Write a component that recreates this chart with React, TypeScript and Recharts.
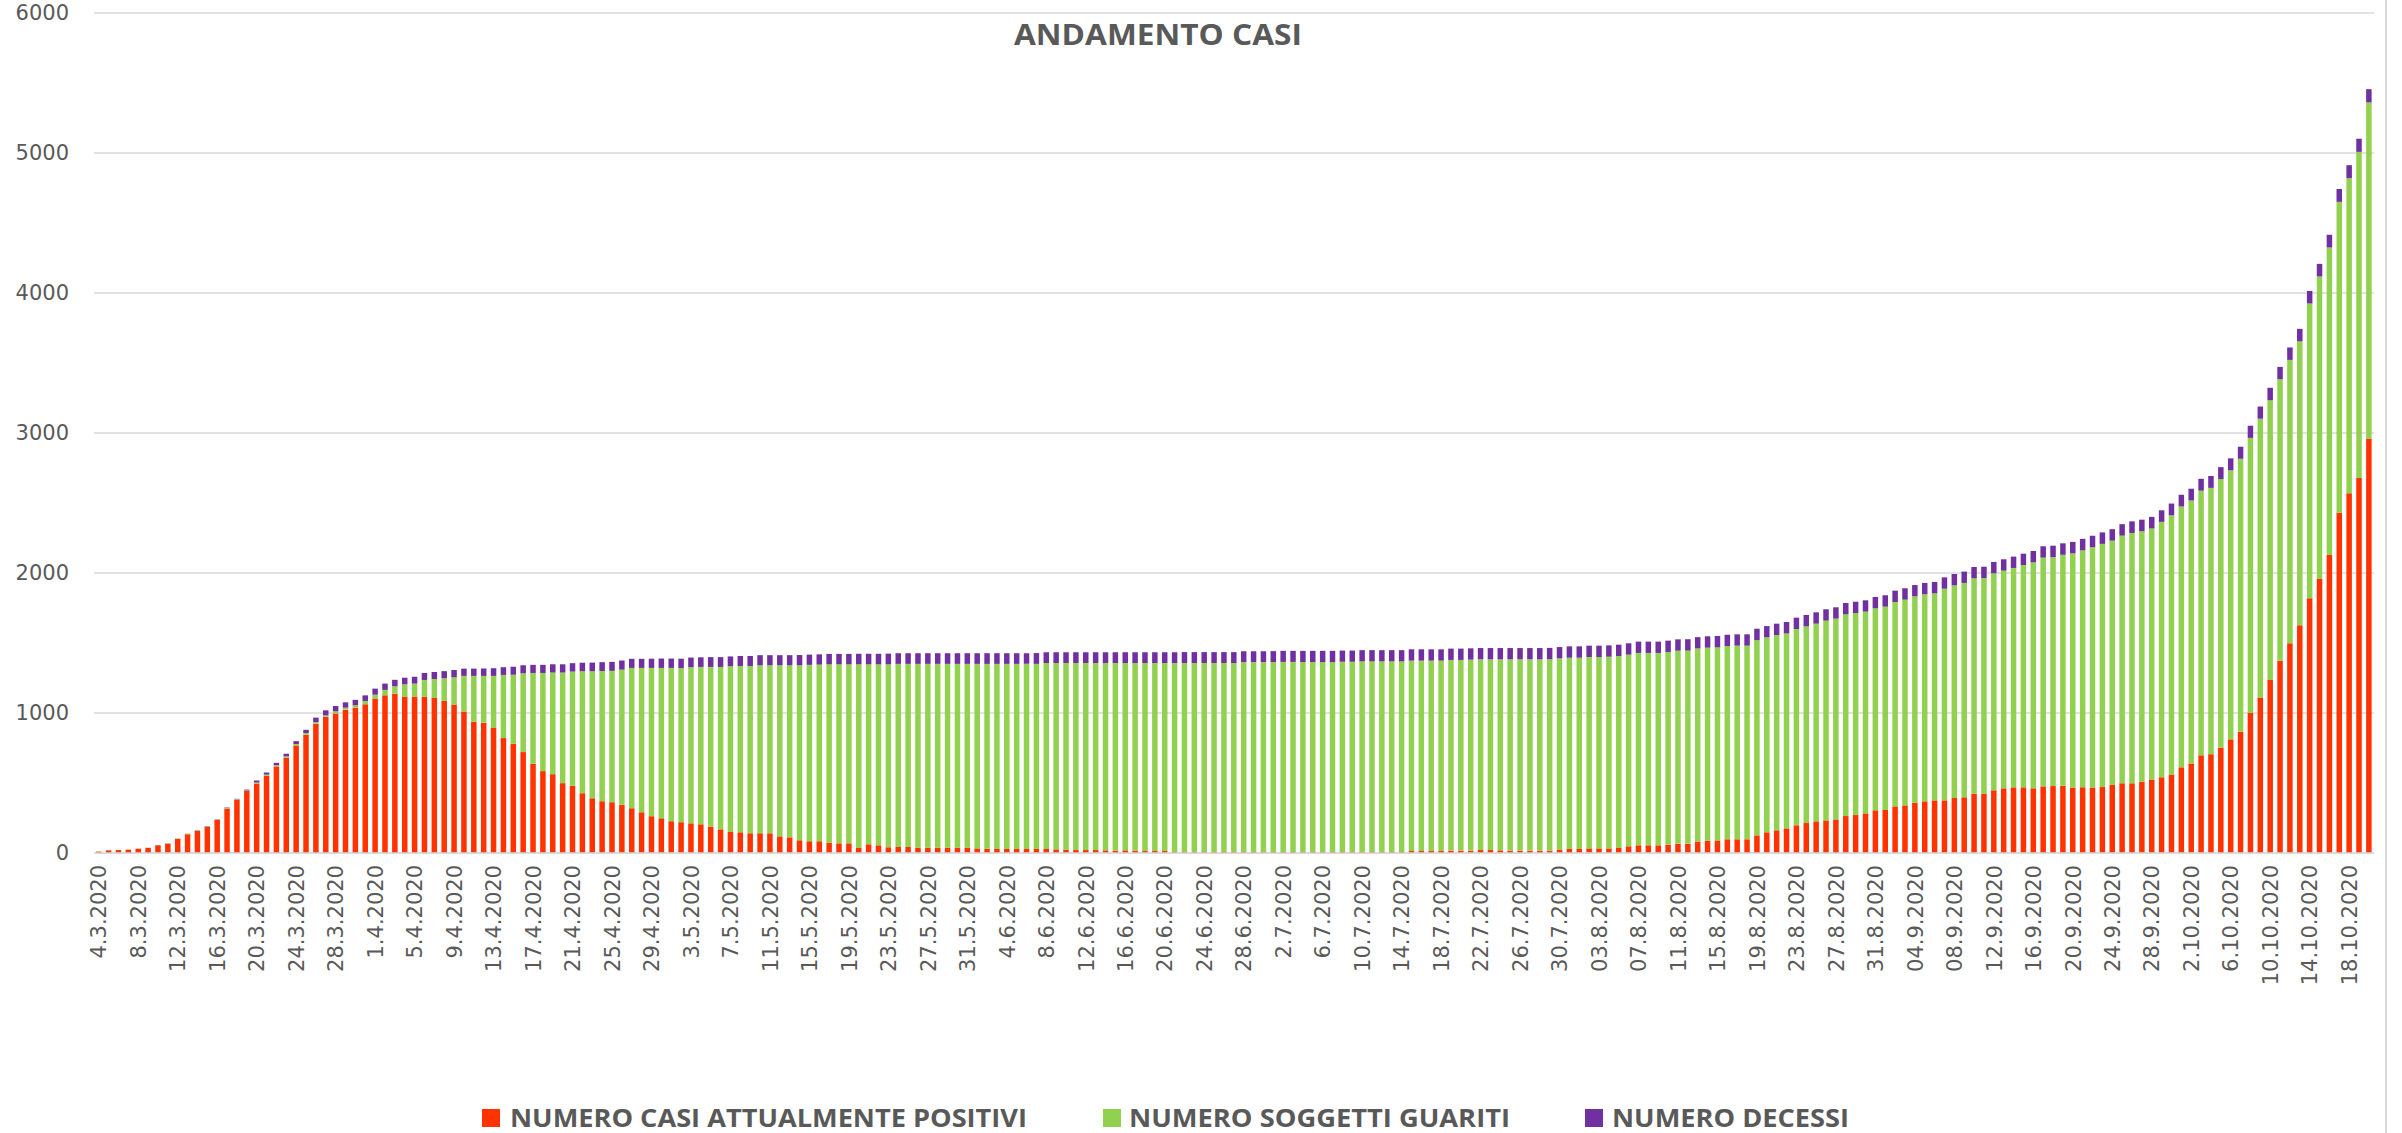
import { BarChart, Bar, XAxis, YAxis, CartesianGrid, Legend } from 'recharts'

const dates = [
  '4.3.2020', '5.3.2020', '6.3.2020', '7.3.2020', '8.3.2020', '9.3.2020', '10.3.2020', '11.3.2020', '12.3.2020', '13.3.2020',
  '14.3.2020', '15.3.2020', '16.3.2020', '17.3.2020', '18.3.2020', '19.3.2020', '20.3.2020', '21.3.2020', '22.3.2020', '23.3.2020',
  '24.3.2020', '25.3.2020', '26.3.2020', '27.3.2020', '28.3.2020', '29.3.2020', '30.3.2020', '31.3.2020',
  '1.4.2020', '2.4.2020', '3.4.2020', '4.4.2020', '5.4.2020', '6.4.2020', '7.4.2020', '8.4.2020', '9.4.2020', '10.4.2020',
  '11.4.2020', '12.4.2020', '13.4.2020', '14.4.2020', '15.4.2020', '16.4.2020', '17.4.2020', '18.4.2020', '19.4.2020', '20.4.2020',
  '21.4.2020', '22.4.2020', '23.4.2020', '24.4.2020', '25.4.2020', '26.4.2020', '27.4.2020', '28.4.2020', '29.4.2020', '30.4.2020',
  '1.5.2020', '2.5.2020', '3.5.2020', '4.5.2020', '5.5.2020', '6.5.2020', '7.5.2020', '8.5.2020', '9.5.2020', '10.5.2020',
  '11.5.2020', '12.5.2020', '13.5.2020', '14.5.2020', '15.5.2020', '16.5.2020', '17.5.2020', '18.5.2020', '19.5.2020', '20.5.2020',
  '21.5.2020', '22.5.2020', '23.5.2020', '24.5.2020', '25.5.2020', '26.5.2020', '27.5.2020', '28.5.2020', '29.5.2020', '30.5.2020', '31.5.2020',
  '1.6.2020', '2.6.2020', '3.6.2020', '4.6.2020', '5.6.2020', '6.6.2020', '7.6.2020', '8.6.2020', '9.6.2020', '10.6.2020',
  '11.6.2020', '12.6.2020', '13.6.2020', '14.6.2020', '15.6.2020', '16.6.2020', '17.6.2020', '18.6.2020', '19.6.2020', '20.6.2020',
  '21.6.2020', '22.6.2020', '23.6.2020', '24.6.2020', '25.6.2020', '26.6.2020', '27.6.2020', '28.6.2020', '29.6.2020', '30.6.2020',
  '1.7.2020', '2.7.2020', '3.7.2020', '4.7.2020', '5.7.2020', '6.7.2020', '7.7.2020', '8.7.2020', '9.7.2020', '10.7.2020',
  '11.7.2020', '12.7.2020', '13.7.2020', '14.7.2020', '15.7.2020', '16.7.2020', '17.7.2020', '18.7.2020', '19.7.2020', '20.7.2020',
  '21.7.2020', '22.7.2020', '23.7.2020', '24.7.2020', '25.7.2020', '26.7.2020', '27.7.2020', '28.7.2020', '29.7.2020', '30.7.2020', '31.7.2020',
  '01.8.2020', '02.8.2020', '03.8.2020', '04.8.2020', '05.8.2020', '06.8.2020', '07.8.2020', '08.8.2020', '09.8.2020', '10.8.2020',
  '11.8.2020', '12.8.2020', '13.8.2020', '14.8.2020', '15.8.2020', '16.8.2020', '17.8.2020', '18.8.2020', '19.8.2020', '20.8.2020',
  '21.8.2020', '22.8.2020', '23.8.2020', '24.8.2020', '25.8.2020', '26.8.2020', '27.8.2020', '28.8.2020', '29.8.2020', '30.8.2020', '31.8.2020',
  '01.9.2020', '02.9.2020', '03.9.2020', '04.9.2020', '05.9.2020', '06.9.2020', '07.9.2020', '08.9.2020', '09.9.2020', '10.9.2020',
  '11.9.2020', '12.9.2020', '13.9.2020', '14.9.2020', '15.9.2020', '16.9.2020', '17.9.2020', '18.9.2020', '19.9.2020', '20.9.2020',
  '21.9.2020', '22.9.2020', '23.9.2020', '24.9.2020', '25.9.2020', '26.9.2020', '27.9.2020', '28.9.2020', '29.9.2020', '30.9.2020',
  '1.10.2020', '2.10.2020', '3.10.2020', '4.10.2020', '5.10.2020', '6.10.2020', '7.10.2020', '8.10.2020', '9.10.2020', '10.10.2020',
  '11.10.2020', '12.10.2020', '13.10.2020', '14.10.2020', '15.10.2020', '16.10.2020', '17.10.2020', '18.10.2020', '19.10.2020', '20.10.2020',
]

// numero casi attualmente positivi
const positivi = [
  10, 19, 21, 24, 31, 37, 55, 66, 100, 134,
  157, 187, 236, 318, 380, 444, 496, 551, 618, 680,
  768, 845, 924, 974, 997, 1024, 1038, 1062, 1103, 1126,
  1138, 1117, 1117, 1115, 1107, 1086, 1060, 1010, 938, 931,
  893, 821, 780, 721, 637, 585, 563, 499, 480, 427,
  391, 370, 363, 344, 320, 291, 263, 248, 227, 220,
  212, 205, 189, 169, 150, 148, 141, 141, 141, 119,
  112, 91, 84, 84, 74, 69, 69, 36, 62, 55,
  41, 43, 43, 38, 38, 38, 38, 38, 38, 33,
  31, 29, 29, 29, 29, 29, 29, 26, 24, 21,
  21, 21, 19, 17, 19, 17, 14, 14, 14, 7,
  7, 7, 7, 7, 7, 7, 7, 7, 7, 7,
  7, 7, 7, 7, 7, 7, 7, 7, 7, 7,
  7, 7, 7, 14, 14, 14, 14, 17, 17, 17,
  21, 21, 19, 17, 17, 17, 17, 17, 24, 29,
  29, 33, 33, 33, 36, 48, 55, 55, 55, 60,
  67, 67, 82, 88, 90, 98, 98, 98, 126, 148,
  162, 176, 198, 214, 226, 233, 240, 264, 271, 283,
  305, 307, 333, 340, 360, 369, 376, 376, 393, 398,
  424, 424, 448, 462, 469, 469, 462, 476, 478, 480,
  468, 470, 468, 471, 486, 498, 498, 510, 525, 541,
  561, 612, 639, 698, 706, 753, 812, 867, 1000, 1110,
  1235, 1373, 1498, 1627, 1820, 1961, 2129, 2431, 2569, 2678,
  2961,
]

// numero soggetti guariti
const guariti = [
  0, 0, 0, 0, 0, 1, 1, 2, 2, 3,
  3, 4, 3, 4, 4, 3, 8, 9, 9, 10,
  10, 12, 11, 9, 15, 14, 17, 24, 28, 39,
  53, 88, 93, 121, 136, 162, 195, 255, 327, 334,
  372, 451, 494, 563, 649, 701, 726, 790, 816, 871,
  907, 930, 938, 966, 1002, 1031, 1059, 1074, 1095, 1100,
  1115, 1124, 1140, 1160, 1184, 1188, 1195, 1200, 1200, 1222,
  1229, 1250, 1260, 1262, 1274, 1279, 1279, 1312, 1286, 1293,
  1307, 1308, 1308, 1313, 1313, 1313, 1313, 1313, 1313, 1318,
  1320, 1322, 1322, 1322, 1322, 1322, 1328, 1331, 1333, 1336,
  1336, 1336, 1338, 1340, 1338, 1340, 1343, 1343, 1343, 1350,
  1350, 1350, 1350, 1350, 1350, 1350, 1356, 1356, 1356, 1356,
  1358, 1358, 1357, 1357, 1357, 1357, 1359, 1359, 1362, 1362,
  1362, 1362, 1362, 1360, 1360, 1360, 1360, 1362, 1362, 1364,
  1362, 1362, 1364, 1366, 1366, 1366, 1366, 1367, 1366, 1366,
  1366, 1367, 1367, 1369, 1371, 1369, 1374, 1374, 1374, 1376,
  1378, 1379, 1379, 1379, 1379, 1380, 1383, 1383, 1395, 1392,
  1395, 1393, 1402, 1405, 1412, 1427, 1434, 1441, 1443, 1441,
  1443, 1453, 1460, 1470, 1473, 1479, 1479, 1512, 1519, 1531,
  1538, 1540, 1550, 1555, 1567, 1588, 1614, 1634, 1635, 1650,
  1672, 1692, 1716, 1737, 1745, 1769, 1788, 1788, 1793, 1824,
  1851, 1863, 1879, 1890, 1902, 1918, 1921, 1949, 1965, 1992,
  2000, 2011, 2024, 2028, 2105, 2157, 2196, 2220, 2251, 2330,
  2400,
]

// numero decessi
const decessi = [
  0, 0, 0, 0, 0, 0, 1, 1, 1, 1,
  2, 2, 2, 3, 3, 6, 14, 15, 17, 19,
  21, 23, 32, 36, 38, 38, 39, 40, 43, 45,
  46, 47, 49, 50, 50, 51, 52, 52, 52, 53,
  55, 55, 56, 57, 58, 58, 59, 59, 60, 61,
  62, 63, 64, 65, 65, 65, 66, 67, 67, 68,
  69, 69, 70, 70, 70, 71, 71, 72, 72, 72,
  72, 73, 73, 73, 74, 74, 74, 75, 75, 75,
  76, 76, 76, 76, 76, 76, 76, 76, 76, 76,
  76, 76, 76, 76, 76, 77, 77, 77, 77, 77,
  77, 77, 77, 77, 77, 77, 77, 77, 77, 77,
  78, 78, 78, 78, 78, 78, 78, 78, 78, 79,
  79, 79, 80, 80, 80, 80, 80, 80, 80, 80,
  80, 80, 80, 81, 81, 81, 81, 81, 81, 81,
  81, 81, 81, 81, 81, 81, 81, 81, 81, 81,
  81, 81, 81, 81, 81, 81, 81, 81, 81, 81,
  81, 81, 81, 81, 81, 81, 81, 81, 81, 81,
  81, 81, 81, 81, 81, 81, 81, 81, 81, 81,
  81, 81, 81, 81, 81, 81, 81, 81, 81, 81,
  81, 81, 81, 81, 81, 81, 81, 81, 82, 82,
  82, 82, 82, 82, 82, 82, 83, 83, 83, 83,
  84, 84, 84, 85, 85, 85, 86, 86, 87, 87,
  88, 88, 89, 89, 90, 90, 91, 92, 93, 94,
  95,
]

const yTicks = [0, 1000, 2000, 3000, 4000, 5000, 6000]

const series = [
  { key: 'positivi', name: 'NUMERO CASI ATTUALMENTE POSITIVI', color: '#FF3300' },
  { key: 'guariti', name: 'NUMERO SOGGETTI GUARITI', color: '#92D050' },
  { key: 'decessi', name: 'NUMERO DECESSI', color: '#7030A0' },
]

const data = dates.map((date, i) => ({
  date,
  positivi: positivi[i],
  guariti: guariti[i],
  decessi: decessi[i],
}))

const TEXT = '#595959'
const GRID = '#D9D9D9'

function DateTick(props: any) {
  const { x, y, payload } = props
  return (
    <text
      transform={`translate(${x},${y}) rotate(-90)`}
      textAnchor="end"
      dy="0.36em"
      fill={TEXT}
      fontSize={21}
      fontFamily="DejaVu Sans"
    >
      {payload.value}
    </text>
  )
}

// legend positions
const legendLayout = [
  { box: 482, text: 510, len: 517 },
  { box: 1103, text: 1129, len: 381 },
  { box: 1585, text: 1612, len: 237 },
]

function LegendContent() {
  return (
    <svg width={2374} height={32} style={{ display: 'block' }}>
      {series.map((s, i) => (
        <g key={s.key}>
          <rect x={legendLayout[i].box} y={8} width={18} height={18} fill={s.color} />
          <text
            x={legendLayout[i].text}
            y={26}
            textLength={legendLayout[i].len}
            lengthAdjust="spacingAndGlyphs"
            fontSize={25}
            fontWeight={700}
            fontFamily="Open Sans"
            fill={TEXT}
          >
            {s.name}
          </text>
        </g>
      ))}
    </svg>
  )
}

export default function App() {
  return (
    <div style={{ position: 'absolute', left: 0, top: 0, width: 2402, height: 1133, background: '#fff' }}>
      <BarChart
        width={2402}
        height={1133}
        data={data}
        margin={{ top: 13, right: 28, left: 0, bottom: 0 }}
        barSize={5.5}
      >
        <CartesianGrid vertical={false} stroke={GRID} strokeWidth={1.5} />
        <XAxis
          dataKey="date"
          interval={3}
          height={248}
          tickLine={false}
          tickSize={0}
          tickMargin={12}
          axisLine={{ stroke: GRID, strokeWidth: 1.5 }}
          tick={<DateTick />}
        />
        <YAxis
          domain={[0, 6000]}
          ticks={yTicks}
          width={94}
          axisLine={false}
          tickLine={false}
          tickSize={0}
          tickMargin={25}
          tick={{ fill: TEXT, fontSize: 21, fontFamily: 'DejaVu Sans' }}
        />
        <Legend verticalAlign="bottom" height={32} wrapperStyle={{ height: 32 }} content={<LegendContent />} />
        {series.map((s) => (
          <Bar key={s.key} dataKey={s.key} name={s.name} stackId="a" fill={s.color} isAnimationActive={false} />
        ))}
      </BarChart>
      <svg width={2402} height={60} style={{ position: 'absolute', left: 0, top: 0, pointerEvents: 'none' }}>
        <text x={1014} y={45} textLength={288} lengthAdjust="spacingAndGlyphs" fontSize={28} fontWeight={700} fontFamily="Open Sans" fill={TEXT}>
          ANDAMENTO CASI
        </text>
      </svg>
      <div style={{ position: 'absolute', left: 2385, top: 0, width: 0, height: 1133, borderLeft: `2px solid ${GRID}` }} />
    </div>
  )
}
